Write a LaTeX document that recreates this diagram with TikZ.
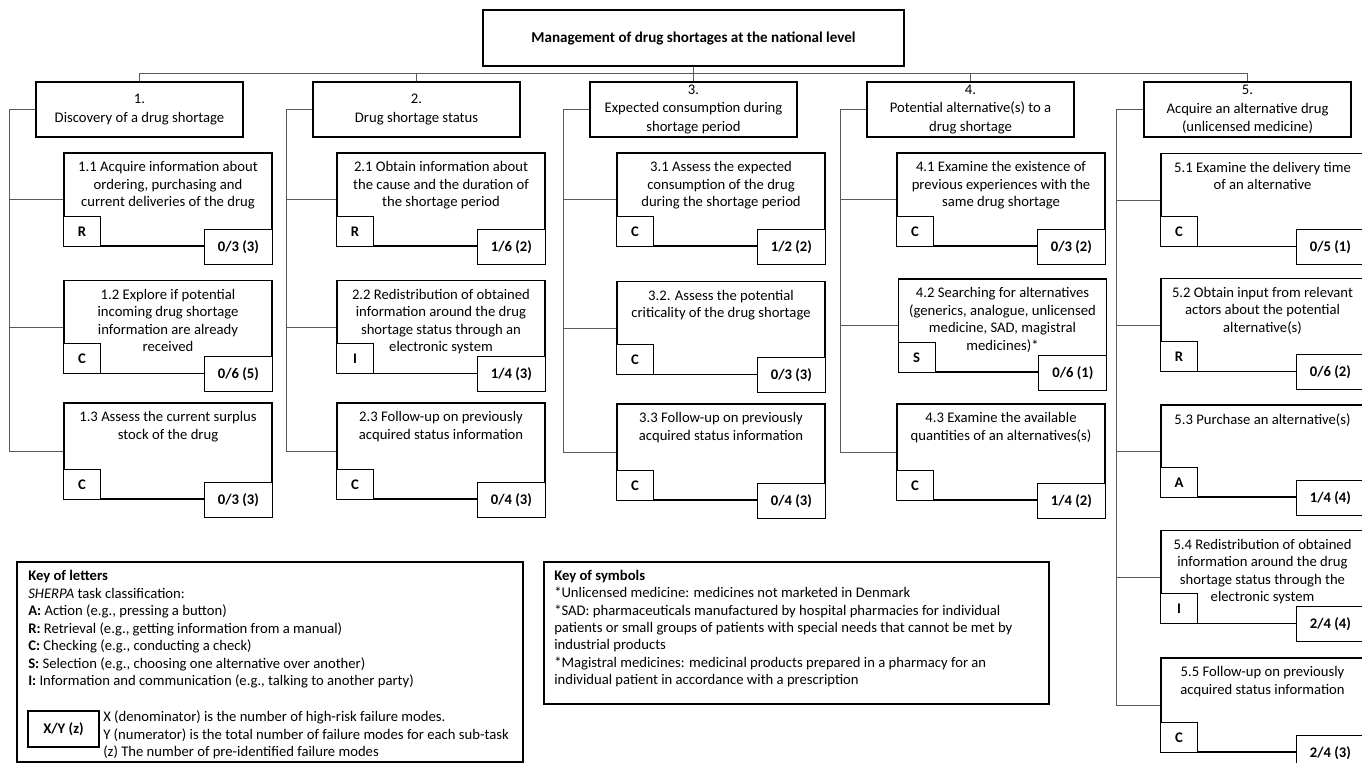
\documentclass[tikz,border=0pt]{standalone}
\usepackage{fontspec}
\setmainfont{Carlito}
\usetikzlibrary{positioning}

\begin{document}
\begin{tikzpicture}[
        x=0.75pt, y=-0.75pt,
        topbox/.style={
            draw, line width=1.4pt, fill=white,
            minimum width=315.75pt, minimum height=42pt,
            inner sep=0pt, font=\fontsize{11.3}{13}\selectfont\bfseries
        },
        headbox/.style={
            draw, line width=1.4pt, fill=white, align=center,
            minimum width=155.25pt, minimum height=41.25pt,
            inner sep=0pt, font=\fontsize{11}{14}\selectfont
        },
        taskbox/.style={
            draw, line width=1.4pt, fill=white,
            minimum width=156pt, minimum height=69.75pt, inner sep=0pt
        },
        tasktext/.style={align=center, inner sep=0pt, font=\fontsize{11}{13.1}\selectfont},
        letterbox/.style={
            draw, line width=0.8pt, fill=white, anchor=south west,
            minimum width=27.75pt, minimum height=22.5pt,
            inner sep=0pt, font=\fontsize{11}{13}\selectfont\bfseries
        },
        scorebox/.style={
            draw, line width=0.8pt, fill=white, anchor=east,
            minimum width=51pt, minimum height=26.25pt,
            inner sep=0pt, font=\fontsize{11}{13}\selectfont\bfseries
        },
        keybox/.style={draw, line width=1.4pt, anchor=north west, inner sep=0pt},
        keytext/.style={anchor=west, align=left, inner sep=0pt, font=\fontsize{11}{13.1}\selectfont},
        link/.style={draw=black!65, line width=0.6pt}
    ]
        \useasboundingbox (0,0) rectangle (1362,763);
        \clip (0,0) rectangle (1362,763);

        \node[topbox] (top) at (693.5,38) {Management of drug shortages at the national level};

        \node[headbox] (h1) at (139.5,109.5) {1.\\Discovery of a drug shortage};
        \node[headbox] (h2) at (416.5,109.5) {2.\\Drug shortage status};
        \node[headbox] (h3) at (693.5,109.5) {3.\\Expected consumption during\\shortage period};
        \node[headbox] (h4) at (970.5,109.5) {4.\\Potential alternative(s) to a\\drug shortage};
        \node[headbox] (h5) at (1247.5,109.5) {5.\\Acquire an alternative drug\\(unlicensed medicine)};

        % column 1
        \node[taskbox] (t11) at (168,199.5) {};
        \node[tasktext, below=7pt of t11.north] (d11) {1.1 Acquire information about\\ordering, purchasing and\\current deliveries of the drug};
        \node[letterbox] (l11) at (t11.south west) {R};
        \node[scorebox] (s11) at (t11.south east) {0/3 (3)};

        \node[taskbox] (t12) at (168,327) {};
        \node[tasktext, below=7pt of t12.north] (d12) {1.2 Explore if potential\\incoming drug shortage\\information are already\\received};
        \node[letterbox] (l12) at (t12.south west) {C};
        \node[scorebox] (s12) at (t12.south east) {0/6 (5)};

        \node[taskbox, minimum height=72pt] (t13) at (168,451) {};
        \node[tasktext, below=7pt of t13.north] (d13) {1.3 Assess the current surplus\\stock of the drug};
        \node[letterbox] (l13) at (t13.south west) {C};
        \node[scorebox] (s13) at (t13.south east) {0/3 (3)};

        % column 2
        \node[taskbox] (t21) at (441,199.5) {};
        \node[tasktext, below=7pt of t21.north] (d21) {2.1 Obtain information about\\the cause and the duration of\\the shortage period};
        \node[letterbox] (l21) at (t21.south west) {R};
        \node[scorebox] (s21) at (t21.south east) {1/6 (2)};

        \node[taskbox] (t22) at (441,327) {};
        \node[tasktext, below=7pt of t22.north] (d22) {2.2 Redistribution of obtained\\information around the drug\\shortage status through an\\electronic system};
        \node[letterbox] (l22) at (t22.south west) {I};
        \node[scorebox] (s22) at (t22.south east) {1/4 (3)};

        \node[taskbox, minimum height=72pt] (t23) at (441,451) {};
        \node[tasktext, below=7pt of t23.north] (d23) {2.3 Follow-up on previously\\acquired status information};
        \node[letterbox] (l23) at (t23.south west) {C};
        \node[scorebox] (s23) at (t23.south east) {0/4 (3)};

        % column 3
        \node[taskbox] (t31) at (721,199.5) {};
        \node[tasktext, below=7pt of t31.north] (d31) {3.1 Assess the expected\\consumption of the drug\\during the shortage period};
        \node[letterbox] (l31) at (t31.south west) {C};
        \node[scorebox] (s31) at (t31.south east) {1/2 (2)};

        \node[taskbox] (t32) at (721,328) {};
        \node[tasktext, below=7pt of t32.north] (d32) {3.2. Assess the potential\\criticality of the drug shortage};
        \node[letterbox] (l32) at (t32.south west) {C};
        \node[scorebox] (s32) at (t32.south east) {0/3 (3)};

        \node[taskbox, minimum height=72pt] (t33) at (721,452) {};
        \node[tasktext, below=7pt of t33.north] (d33) {3.3 Follow-up on previously\\acquired status information};
        \node[letterbox] (l33) at (t33.south west) {C};
        \node[scorebox] (s33) at (t33.south east) {0/4 (3)};

        % column 4
        \node[taskbox] (t41) at (1001,199.5) {};
        \node[tasktext, below=7pt of t41.north] (d41) {4.1 Examine the existence of\\previous experiences with the\\same drug shortage};
        \node[letterbox] (l41) at (t41.south west) {C};
        \node[scorebox] (s41) at (t41.south east) {0/3 (2)};

        \node[taskbox] (t42) at (1002.5,325.5) {};
        \node[tasktext, below=7pt of t42.north] (d42) {4.2 Searching for alternatives\\(generics, analogue, unlicensed\\medicine, SAD, magistral\\medicines)*};
        \node[letterbox] (l42) at (t42.south west) {S};
        \node[scorebox] (s42) at (t42.south east) {0/6 (1)};

        \node[taskbox, minimum height=72pt] (t43) at (1001,452) {};
        \node[tasktext, below=7pt of t43.north] (d43) {4.3 Examine the available\\quantities of an alternatives(s)};
        \node[letterbox] (l43) at (t43.south west) {C};
        \node[scorebox] (s43) at (t43.south east) {1/4 (2)};

        % column 5
        \node[taskbox, minimum width=152.25pt] (t51) at (1262.5,200) {};
        \node[tasktext, below=7pt of t51.north] (d51) {5.1 Examine the delivery time\\of an alternative};
        \node[letterbox] (l51) at (t51.south west) {C};
        \node[scorebox] (s51) at (t51.south east) {0/5 (1)};

        \node[taskbox, minimum width=152.25pt] (t52) at (1262.5,325) {};
        \node[tasktext, below=7pt of t52.north] (d52) {5.2 Obtain input from relevant\\actors about the potential\\alternative(s)};
        \node[letterbox] (l52) at (t52.south west) {R};
        \node[scorebox] (s52) at (t52.south east) {0/6 (2)};

        \node[taskbox, minimum width=152.25pt, minimum height=69pt] (t53) at (1262.5,451) {};
        \node[tasktext, below=7pt of t53.north] (d53) {5.3 Purchase an alternative(s)};
        \node[letterbox] (l53) at (t53.south west) {A};
        \node[scorebox] (s53) at (t53.south east) {1/4 (4)};

        \node[taskbox, minimum width=152.25pt] (t54) at (1262.5,577) {};
        \node[tasktext, below=7pt of t54.north] (d54) {5.4 Redistribution of obtained\\information around the drug\\shortage status through the\\electronic system};
        \node[letterbox] (l54) at (t54.south west) {I};
        \node[scorebox] (s54) at (t54.south east) {2/4 (4)};

        \node[taskbox, minimum width=152.25pt, minimum height=70.5pt] (t55) at (1262.5,705) {};
        \node[tasktext, below=7pt of t55.north] (d55) {5.5 Follow-up on previously\\acquired status information};
        \node[letterbox] (l55) at (t55.south west) {C};
        \node[scorebox] (s55) at (t55.south east) {2/4 (3)};

        % keys
        \node[keybox, minimum width=379.5pt, minimum height=150pt] (keyl) at (16,561) {};
        \node[keytext] (keyltxt) at (28,629.5) {\textbf{Key of letters}\\
            \textit{SHERPA} task classification:\\
            \textbf{A:} Action (e.g., pressing a button)\\
            \textbf{R:} Retrieval (e.g., getting information from a manual)\\
            \textbf{C:} Checking (e.g., conducting a check)\\
            \textbf{S:} Selection (e.g., choosing one alternative over another)\\
            \textbf{I:} Information and communication (e.g., talking to another party)};
        \node[draw, line width=1.1pt, minimum width=53.25pt, minimum height=27pt, inner sep=0pt,
              font=\fontsize{11}{13}\selectfont\bfseries] (xy) at (63.5,729) {X/Y (z)};
        \node[keytext] (xytxt) at (103,735) {X (denominator) is the number of high-risk failure modes.\\
            Y (numerator) is the total number of failure modes for each sub-task\\
            (z) The number of pre-identified failure modes};

        \node[keybox, minimum width=378.75pt, minimum height=106.5pt] (keys) at (543,561) {};
        \node[keytext] (keystxt) at (554,628.5) {\textbf{Key of symbols}\\
            *Unlicensed medicine: medicines not marketed in Denmark\\
            *SAD: pharmaceuticals manufactured by hospital pharmacies for individual\\
            patients or small groups of patients with special needs that cannot be met by\\
            industrial products\\
            *Magistral medicines: medicinal products prepared in a pharmacy for an\\
            individual patient in accordance with a prescription};

        % hierarchy
        \draw[link] (top.south) |- ([yshift=6pt]h1.north) -- (h1.north);
        \draw[link] (top.south) |- ([yshift=6pt]h2.north) -- (h2.north);
        \draw[link] (top.south) -- (h3.north);
        \draw[link] (top.south) |- ([yshift=6pt]h4.north) -- (h4.north);
        \draw[link] (top.south) |- ([yshift=6pt]h5.north) -- (h5.north);

        \draw[link] (h1.west) -- ++(-26,0) |- (t11.west);
        \draw[link] (h1.west) -- ++(-26,0) |- (t12.west);
        \draw[link] (h1.west) -- ++(-26,0) |- (t13.west);
        \draw[link] (h2.west) -- ++(-26,0) |- (t21.west);
        \draw[link] (h2.west) -- ++(-26,0) |- (t22.west);
        \draw[link] (h2.west) -- ++(-26,0) |- (t23.west);
        \draw[link] (h3.west) -- ++(-26,0) |- (t31.west);
        \draw[link] (h3.west) -- ++(-26,0) |- (t32.west);
        \draw[link] (h3.west) -- ++(-26,0) |- (t33.west);
        \draw[link] (h4.west) -- ++(-26,0) |- (t41.west);
        \draw[link] (h4.west) -- ++(-26,0) |- (t42.west);
        \draw[link] (h4.west) -- ++(-26,0) |- (t43.west);
        \draw[link] (h5.west) -- ++(-27,0) |- (t51.west);
        \draw[link] (h5.west) -- ++(-27,0) |- (t52.west);
        \draw[link] (h5.west) -- ++(-27,0) |- (t53.west);
        \draw[link] (h5.west) -- ++(-27,0) |- (t54.west);
        \draw[link] (h5.west) -- ++(-27,0) |- (t55.west);
    \end{tikzpicture}
\end{document}
